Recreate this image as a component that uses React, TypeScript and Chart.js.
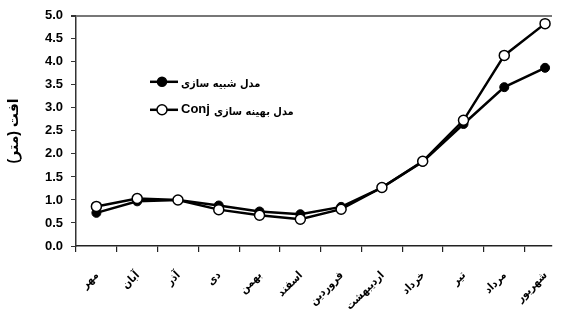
import React, { useEffect, useRef } from "react";
import { Chart, registerables } from "chart.js";

Chart.register(...registerables);

const months = ["مهر", "آبان", "آذر", "دی", "بهمن", "اسفند", "فروردین", "اردیبهشت", "خرداد", "تیر", "مرداد", "شهریور"];
const simulated = [0.72, 0.97, 1.0, 0.88, 0.75, 0.69, 0.85, 1.27, 1.83, 2.65, 3.45, 3.87];
const conjOptimized = [0.86, 1.03, 1.0, 0.79, 0.67, 0.58, 0.80, 1.27, 1.84, 2.73, 4.14, 4.83];
const yTicks = [0, 0.5, 1, 1.5, 2, 2.5, 3, 3.5, 4, 4.5, 5];
const legendSim = "مدل شبیه سازی";
const legendConjAr = "مدل بهینه سازی";
const legendConjEn = "Conj";
const yTitle = "افت (متر)";

const FONT = "Arial, 'Liberation Sans', 'DejaVu Sans', sans-serif";
const AR_FONT = "'DejaVu Sans Condensed', 'DejaVu Sans', sans-serif";

const legendPlugin = {
  id: "inlineLegend",
  afterDraw(chart: any) {
    const { ctx, chartArea } = chart;
    const x0 = chartArea.left + 74;
    const rows = [
      { y: chartArea.top + 66, filled: true },
      { y: chartArea.top + 94, filled: false },
    ];
    ctx.save();
    rows.forEach((r) => {
      ctx.strokeStyle = "#000";
      ctx.lineWidth = 2.5;
      ctx.beginPath();
      ctx.moveTo(x0, r.y);
      ctx.lineTo(x0 + 28, r.y);
      ctx.stroke();
      ctx.beginPath();
      ctx.arc(x0 + 12, r.y, r.filled ? 4.5 : 5, 0, Math.PI * 2);
      ctx.fillStyle = r.filled ? "#000" : "#fff";
      ctx.fill();
      ctx.lineWidth = 1.5;
      ctx.stroke();
    });
    ctx.fillStyle = "#000";
    ctx.textBaseline = "middle";
    ctx.textAlign = "left";
    ctx.font = `bold 11px ${AR_FONT}`;
    ctx.fillText(legendSim, x0 + 31, rows[0].y + 2);
    ctx.font = `bold 13px ${FONT}`;
    ctx.fillText(legendConjEn, x0 + 31, rows[1].y);
    const w = ctx.measureText(legendConjEn).width;
    ctx.font = `bold 11px ${AR_FONT}`;
    ctx.fillText(legendConjAr, x0 + 35 + w, rows[1].y + 2);
    ctx.restore();
  },
};

export default function App() {
  const ref = useRef<HTMLCanvasElement>(null);
  useEffect(() => {
    if (!ref.current) return;
    const chart = new Chart(ref.current, {
      type: "line",
      data: {
        datasets: [
          {
            label: legendConjEn + " " + legendConjAr,
            data: conjOptimized.map((v, i) => ({ x: i, y: v })),
            borderColor: "#000",
            borderWidth: 2.5,
            pointRadius: 5,
            pointBackgroundColor: "#fff",
            pointBorderColor: "#000",
            pointBorderWidth: 1.5,
            tension: 0,
          },
          {
            label: legendSim,
            data: simulated.map((v, i) => ({ x: i, y: v })),
            borderColor: "#000",
            borderWidth: 2.5,
            pointRadius: 4.5,
            pointBackgroundColor: "#000",
            pointBorderColor: "#000",
            pointBorderWidth: 1,
            tension: 0,
          },
        ],
      },
      options: {
        animation: false,
        responsive: true,
        maintainAspectRatio: false,
        layout: { padding: { top: 14, right: 15, left: 0, bottom: 0 } },
        plugins: { legend: { display: false }, tooltip: { enabled: false } },
        scales: {
          x: {
            type: "linear",
            min: -0.5,
            max: 11.17,
            afterBuildTicks(scale: any) {
              scale.ticks = months.map((_, i) => ({ value: i - 0.5 }));
            },
            afterFit(scale: any) {
              scale.height = 68;
            },
            border: { display: true, color: "#222", width: 1.5 },
            grid: { drawOnChartArea: false, drawTicks: true, tickLength: 6, color: "#222", lineWidth: 1.2 },
            ticks: {
              autoSkip: false,
              minRotation: 45,
              maxRotation: 45,
              labelOffset: 21,
              padding: 17,
              color: "#000",
              font: { family: AR_FONT, size: 11, weight: "bold" },
              callback: (_v: any, i: number) => months[i],
            },
          },
          y: {
            min: 0,
            max: 5,
            afterBuildTicks(scale: any) {
              scale.ticks = yTicks.map((v) => ({ value: v }));
            },
            afterFit(scale: any) {
              scale.width = 76;
            },
            border: { display: true, color: "#333", width: 1.5 },
            grid: {
              drawOnChartArea: true,
              drawTicks: true,
              tickLength: 5,
              color: (c: any) => (c.tick && c.tick.value === 5 ? "#777" : "rgba(0,0,0,0)"),
              lineWidth: (c: any) => (c.tick && c.tick.value === 5 ? 2 : 1),
              tickColor: "#333",
            },
            ticks: {
              padding: 8,
              color: "#000",
              font: { family: FONT, size: 13, weight: "bold" },
              callback: (v: any) => Number(v).toFixed(1),
            },
            title: {
              display: true,
              text: yTitle,
              color: "#000",
              padding: { top: 6, bottom: 0 },
              font: { family: FONT, size: 14, weight: "bold" },
            },
          },
        },
      },
      plugins: [legendPlugin],
    });
    return () => chart.destroy();
  }, []);
  return (
    <div style={{ position: "fixed", left: 0, top: 0, width: 567, height: 314, background: "#fff" }}>
      <canvas ref={ref} dir="rtl" />
    </div>
  );
}
